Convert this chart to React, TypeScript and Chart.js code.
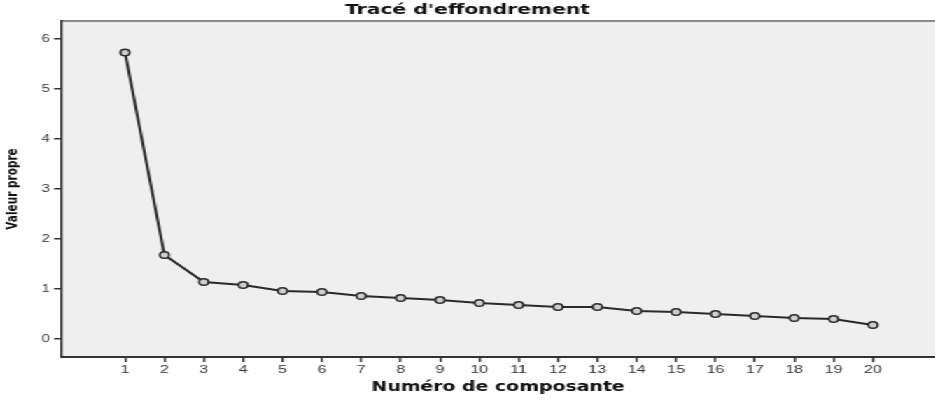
import React, { useEffect, useRef } from "react";
import { Chart, registerables } from "chart.js";

Chart.register(...registerables);

const components = [1, 2, 3, 4, 5, 6, 7, 8, 9, 10, 11, 12, 13, 14, 15, 16, 17, 18, 19, 20];
const eigenvalues = [5.73, 1.68, 1.14, 1.08, 0.96, 0.94, 0.86, 0.82, 0.78, 0.72, 0.68, 0.64, 0.64, 0.56, 0.54, 0.5, 0.46, 0.42, 0.4, 0.28];
const xTickValues = components;
const yTickValues = [0, 1, 2, 3, 4, 5, 6];
const titleText = "Tracé d'effondrement";
const xTitle = "Numéro de composante";
const yTitle = "Valeur propre";

const STRETCH = 1.4;
const CW = 668;
const CH = 400;

const plotFrame = {
  id: "plotFrame",
  beforeDraw(chart: any) {
    const { ctx, chartArea } = chart;
    ctx.save();
    ctx.fillStyle = "#efefef";
    ctx.fillRect(chartArea.left, chartArea.top, chartArea.right - chartArea.left, chartArea.bottom - chartArea.top);
    ctx.strokeStyle = "#8a8a8a";
    ctx.lineWidth = 2;
    ctx.beginPath();
    ctx.moveTo(chartArea.left, chartArea.top);
    ctx.lineTo(chartArea.right, chartArea.top);
    ctx.stroke();
    ctx.restore();
  },
};

export default function App() {
  const ref = useRef<HTMLCanvasElement | null>(null);
  useEffect(() => {
    if (!ref.current) return;
    const chart = new Chart(ref.current, {
      type: "line",
      data: {
        datasets: [
          {
            data: components.map((c, i) => ({ x: c, y: eigenvalues[i] })),
            borderColor: "#2a2a2a",
            borderWidth: 2,
            pointRadius: 3.3,
            pointBorderWidth: 1.5,
            pointBackgroundColor: "#cfcfcf",
            pointBorderColor: "#2a2a2a",
            tension: 0,
          },
        ],
      },
      options: {
        responsive: false,
        animation: false,
        devicePixelRatio: 1,
        layout: { padding: 0, autoPadding: false },
        plugins: {
          legend: { display: false },
          tooltip: { enabled: false },
          title: {
            display: true,
            text: titleText,
            color: "#111",
            font: { family: "DejaVu Sans", weight: "bold", size: 14.5, lineHeight: 1.2 },
            padding: { top: 1.8, bottom: 1.8 },
          },
        },
        scales: {
          x: {
            type: "linear",
            min: -0.625,
            max: 21.58,
            afterBuildTicks: (s: any) => {
              s.ticks = xTickValues.map((v) => ({ value: v }));
            },
            afterFit: (s: any) => {
              s.height = 43;
            },
            border: { color: "#333", width: 2 },
            grid: { drawOnChartArea: false, drawTicks: true, tickLength: 5, color: "#333", lineWidth: 1.5 },
            ticks: {
              autoSkip: false,
              maxRotation: 0,
              padding: 1,
              color: "#333",
              font: { family: "Liberation Sans", size: 11.5 },
              callback: (v: any) => String(v),
            },
            title: {
              display: true,
              text: xTitle,
              color: "#111",
              font: { family: "DejaVu Sans", weight: "bold", size: 13.5, lineHeight: 1.2 },
              padding: { top: 0, bottom: 4 },
            },
          },
          y: {
            type: "linear",
            min: -0.36,
            max: 6.36,
            afterBuildTicks: (s: any) => {
              s.ticks = yTickValues.map((v) => ({ value: v }));
            },
            afterFit: (s: any) => {
              s.width = 43.6;
            },
            border: { color: "#333", width: 1.6 },
            grid: { drawOnChartArea: false, drawTicks: true, tickLength: 5, color: "#333", lineWidth: 1.5 },
            ticks: {
              padding: 3,
              color: "#333",
              font: { family: "Liberation Sans", size: 10.5 },
              callback: (v: any) => String(v),
            },
            title: {
              display: true,
              text: yTitle,
              color: "#111",
              font: { family: "DejaVu Sans", weight: "bold", size: 10.5, lineHeight: 1.2 },
              padding: { top: 3, bottom: 0 },
            },
          },
        },
      },
      plugins: [plotFrame],
    } as any);
    return () => chart.destroy();
  }, []);

  return (
    <div
      style={{
        position: "absolute",
        left: 0,
        top: 0,
        width: CW,
        height: CH,
        transform: `scaleX(${STRETCH})`,
        transformOrigin: "0 0",
        background: "#fff",
      }}
    >
      <canvas ref={ref} width={CW} height={CH} style={{ display: "block", width: CW, height: CH }} />
    </div>
  );
}
